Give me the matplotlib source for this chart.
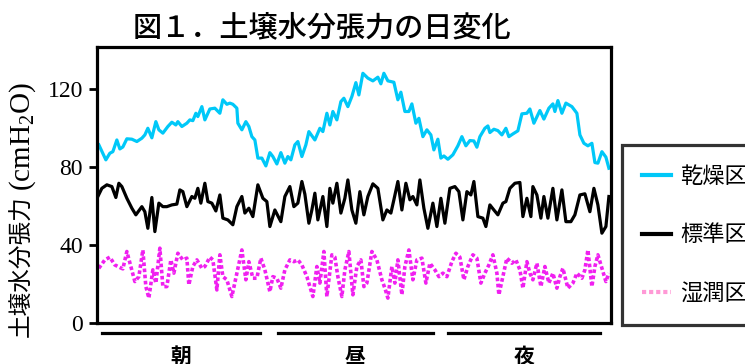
import matplotlib
matplotlib.use('Agg')
import matplotlib.pyplot as plt
from matplotlib.lines import Line2D

plt.rcParams['font.family'] = ['Noto Sans CJK JP', 'DejaVu Sans']
plt.rcParams['mathtext.fontset'] = 'custom'
plt.rcParams['mathtext.rm'] = 'Liberation Serif'

# 乾燥区 (測定時刻, 張力 cmH2O)
t_dry = [2, 9, 13, 16, 20, 23, 26, 30, 35, 40, 45, 48, 51, 55, 59, 62, 66, 71, 75, 79,
         81, 85, 90, 93, 96, 99, 101, 105, 108, 113, 118, 123, 126, 130, 133,
         136, 140, 141, 145, 149, 152, 155, 158, 161, 165, 169, 173, 176, 180, 184,
         188, 191, 194, 198, 201, 205, 209, 212, 218, 223, 226, 230, 233, 236, 240,
         244, 247, 251, 255, 259, 262, 266, 271, 276, 281, 284, 287, 291, 297, 301,
         304, 308, 312, 315, 319, 322, 326, 330, 334, 337, 341, 344, 347, 351, 356,
         361, 365, 369, 373, 377, 380, 383, 388, 391, 393, 397, 401, 405, 409, 412,
         416, 421, 425, 430, 433, 437, 443, 447, 452, 456, 458, 461, 465, 469, 475,
         480, 483, 487, 491, 495, 498, 501, 505, 509, 512]
v_dry = [91.3, 83.6, 87, 87.8, 93.8, 89.2, 90.2, 94.4, 94.2, 93, 94.7, 96.4, 99.8, 94.9, 103.2,
         99, 97.3, 100.7, 102.9, 101.5, 103.2, 100.7, 102.4, 104.1, 103.7, 107.5, 105.8, 110.9,
         104.1, 109.7, 110.1, 107.5, 114.4, 112.1, 112.7,
         112.1, 110.1, 102.4, 99, 103.2, 100.7, 95.5, 93.8, 84.5, 84.5, 80.5, 87.3, 85.3, 81.5,
         87.3, 81.9, 85.3, 83.6, 91.3, 93, 85.3, 91.3, 98.1, 93.8, 99.8, 98.1, 107.5, 101.5,
         108.4, 104.1, 113.5, 115.2, 110.9, 116.1, 123.2, 116.9, 128, 125.5, 124.1, 126, 122.6,
         128, 124.1, 123.4, 114.4, 118.3, 108.4, 108.4, 112.3, 102.4, 104.9, 95.5, 99, 96.4,
         88.7, 94.2, 84.5, 85.6, 83.9, 86.2, 90.8, 95.5, 90.8, 93.5, 93.3, 90.1, 95.5, 99.8,
         101, 97.6, 99.3, 98.6, 96.4, 99.8, 95.5, 96.9, 98.5, 107.2, 107.5, 109.7, 102.4, 108.9,
         104.5, 110.1, 112.3, 108.4, 114, 107.5, 112.7, 110.9, 107.5, 96.4, 92.1, 90.8, 92.1,
         82.2, 81.9, 87.8, 85, 79.3]

# 標準区
t_std = [1, 5, 10, 15, 19, 22, 25, 30, 35, 39, 45, 48, 51, 55, 58, 62, 66, 70, 75, 80,
         83, 86, 90, 95, 98, 101, 104, 108, 111, 115, 119, 123, 126, 131,
         136, 140, 145, 148, 152, 156, 161, 166, 170, 173, 178, 184, 188, 193, 197, 201,
         205, 208, 212, 215, 218, 221, 226, 230, 233, 236, 240, 244, 248, 251, 255, 259,
         263, 267, 271, 276, 281, 286, 290, 294, 297, 301, 305, 309, 313, 316, 320, 323,
         327, 331, 336, 340, 344, 348, 353, 358, 362, 366, 370, 374, 377, 381, 386, 389,
         393, 397, 401, 406, 409, 413, 418, 423, 426, 430, 434, 436, 440, 444, 447, 451,
         456, 460, 465, 469, 474, 478, 483, 488, 493, 497, 501, 505, 509, 512]
v_std = [64.8, 69, 70.8, 69.9, 64.3, 71.6, 69.9, 63.9, 58.8, 55.4, 59.6, 57, 48.5, 64.3, 46.8,
         61.4, 59.6, 59.6, 60.5, 60.9, 68.2, 67.3, 59.6, 64.8, 63.9, 69, 61.4, 71.6, 62.2, 61.4,
         57.4, 65.6, 53.7, 52.8,
         50.3, 59.6, 64.8, 56.3, 58.8, 54.5, 70.8, 63.9, 62.2, 49.4, 57.9, 51.9, 64.8, 69.9,
         59.6, 61.4,
         72.5, 66, 51.1, 57.9, 66.5, 52.8, 64.8, 49.4, 69, 61.4, 71.6, 56.3, 63.9, 73.3, 57.9,
         51.1, 67.3, 55.4, 64.8, 71.3, 69, 52.8, 57.9, 56.3, 63.1, 72.5, 57.9, 71.6, 63.1, 64.8,
         60.5, 73.3, 58.8, 48.5, 61.4, 49.4, 63.9, 51.1, 69, 69.9, 67.3, 52.8, 67.3, 65.6, 72.5,
         54.5, 53.7, 49.4, 60.5, 57.9, 55.4, 61.4, 62.2, 69, 71.6, 72, 54.5, 63.9, 54.5, 69.9,
         65.6, 53.7, 64.8, 53.7, 69, 52.8, 68.2, 51.9, 51.9, 55.4, 65.6, 66.2, 57, 69, 60.5,
         46, 49.4, 64.8]

# 湿潤区
t_wet = [2, 8, 13, 18, 23, 26, 30, 34, 38, 42, 46, 49, 52, 56, 59, 63, 66, 70, 74, 77,
         81, 86, 90, 92, 96, 100, 105, 108, 113, 116, 120, 123, 126, 130, 135, 140, 145, 149,
         152, 156, 160, 164, 168, 173, 176, 180, 184, 188, 193, 197, 201,
         205, 210, 216, 220, 223, 227, 230, 235, 238, 241, 245, 248, 252, 256, 260, 264, 267,
         270, 275, 280, 285, 288, 291, 295, 298, 301, 305, 308, 312, 316, 320, 325, 329, 333,
         338, 342, 346, 350, 355, 359, 363, 367, 371, 376, 380, 384, 388, 392, 396, 400,
         402, 406, 410, 415, 419, 423, 426, 430, 433, 436, 440, 444, 448, 452, 456, 460, 463,
         466, 471, 476, 480, 485, 488, 491, 495, 498, 501, 505, 509, 512]
v_wet = [28, 32.3, 33.7, 29.7, 28.4, 27.7, 36.6, 28.9, 21.2, 23.7, 37.4, 18.6, 12.7, 27.2, 20.4,
         38.3, 18.6, 18.6, 32.3, 25.5, 35.7, 32.3, 33.2, 19.5, 28.9, 32.3, 28, 28.9, 33.7, 32.3,
         16.9, 34.9, 23.7, 22.1, 13.5, 25.5, 37.4, 22.1, 31.4, 22.9, 22.9, 33.2, 27.2, 16, 23.7,
         22.9, 17.8, 27.2, 32.3, 31.4, 32.3,
         29.7, 23.7, 13.5, 28.9, 20.4, 36.6, 13.5, 34.9, 33.7, 23.7, 13.5, 27.2, 36.6, 14.4, 28.9,
         32.3, 18.6, 20.4, 36.6, 32.3, 22.1, 17.8, 12.7, 28.9, 20.4, 32.3, 14.4, 28.9, 37.4, 22.1,
         32.3, 33.2, 20.4, 30.6, 27.2, 23.7, 25.5, 23.7, 31.4, 35.7, 33.7, 22.1, 28.9, 34.9, 33.2,
         20.4, 25.5, 29.7, 34.9, 25.5, 14.4, 23.7, 33.2, 30.6, 32.3, 27.2, 17.8, 31.4, 25.5, 22.1,
         30.6, 18.6, 28.9, 20.4, 25.5, 17.8, 23.7, 28, 17.8, 20.4, 25.5, 22.9, 27.2, 37.4, 18.6,
         28.9, 34.9, 28, 21.2, 25.5]

labels = ['乾燥区', '標準区', '湿潤区']
periods = ['朝', '昼', '夜']
yticks = [0, 40, 80, 120]

fig = plt.figure(figsize=(7.45, 3.64), dpi=100)
ax = fig.add_axes([0.130, 0.113, 0.690, 0.758])

ax.plot(t_dry, v_dry, color='#00c8f8', lw=2.3)
ax.plot(t_std, v_std, color='black', lw=2.3)
ax.plot(t_wet, v_wet, color='#f020f0', lw=2.6, ls=(0, (1, 0.7)))

ax.set_xlim(0, 514)
ax.set_ylim(0, 141.5)
ax.set_xticks([])
ax.set_yticks(yticks)
ax.set_yticklabels([str(v) for v in yticks], fontfamily='Liberation Serif', fontsize=17)
ax.tick_params(axis='y', length=6, width=2, pad=4)
for sp in ax.spines.values():
    sp.set_linewidth(2.3)

# 朝・昼・夜の区切り線
spans = [(5, 163), (181, 336), (351, 503)]
trans = ax.get_xaxis_transform()
for (a, b), name in zip(spans, periods):
    ax.plot([a, b], [-0.036, -0.036], color='black', lw=2.3, transform=trans, clip_on=False)
    ax.text((a + b) / 2, -0.12, name, transform=trans, ha='center', va='center',
            fontsize=15, fontweight='bold')

fig.text(0.432, 0.923, '図１．土壌水分張力の日変化', ha='center', va='center',
         fontsize=21, fontweight='medium')

# 縦軸ラベル: 和文部分と単位部分を分けて書く
fig.text(0.029, 0.074, '土壌水分張力', rotation=90, ha='center', va='bottom', fontsize=17)
fig.text(0.031, 0.476, '$\\mathrm{(cmH_2O)}$', rotation=90, ha='center', va='bottom',
         fontsize=21)

handles = [Line2D([], [], color='#00c8f8', lw=3),
           Line2D([], [], color='black', lw=3),
           Line2D([], [], color='#ff99d6', lw=3, ls=(0, (1, 0.7)))]
leg = fig.legend(handles, labels, loc='upper left', bbox_to_anchor=(0.835, 0.602),
                 fontsize=16, frameon=True, fancybox=False, borderpad=0.9,
                 labelspacing=1.6, handlelength=1.3, handletextpad=0.4, borderaxespad=0)
leg.get_frame().set_edgecolor('black')
leg.get_frame().set_linewidth(2.3)

plt.savefig('out.png', dpi=100)
